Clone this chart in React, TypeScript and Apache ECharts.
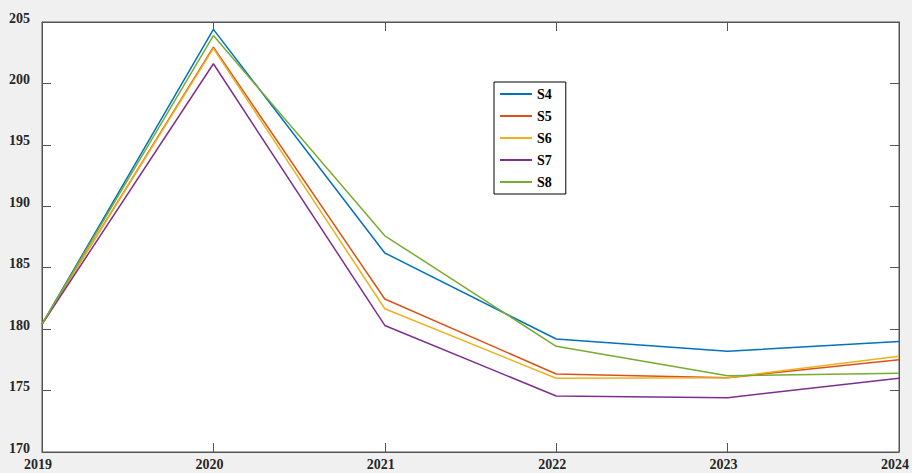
import React, { useEffect, useRef } from "react";
import * as echarts from "echarts";

const categories = ["2019", "2020", "2021", "2022", "2023", "2024"];
const seriesNames = ["S4", "S5", "S6", "S7", "S8"];
const s4 = [180.4, 204.4, 186.2, 179.2, 178.2, 179.0];
const s5 = [180.4, 202.95, 182.45, 176.35, 176.05, 177.5];
const s6 = [180.4, 202.85, 181.66, 176.0, 176.05, 177.8];
const s7 = [180.4, 201.6, 180.3, 174.56, 174.42, 176.0];
const s8 = [180.4, 203.9, 187.6, 178.6, 176.2, 176.4];
const seriesData = [s4, s5, s6, s7, s8];
const colors = ["#0072BD", "#D95319", "#EDB120", "#7E2F8E", "#77AC30"];
const yMin = 170;
const yMax = 205;
const yStep = 5;

const font = "Liberation Serif";
const axisColor = "#555555";
const labelColor = "#262626";

export default function App() {
  const ref = useRef<HTMLDivElement>(null);
  useEffect(() => {
    if (!ref.current) return;
    const chart = echarts.init(ref.current, null, { renderer: "svg" });
    const tickStyle = { show: true, inside: true, length: 9, lineStyle: { color: axisColor, width: 1 } };
    const labelBase = {
      fontFamily: font,
      fontWeight: "bold" as const,
      fontSize: 14,
      color: labelColor,
    };
    chart.setOption({
      animation: false,
      backgroundColor: "#f0f0f0",
      color: colors,
      textStyle: { fontFamily: font },
      grid: {
        left: 42,
        right: 11,
        top: 22,
        bottom: 21,
        show: true,
        backgroundColor: "#ffffff",
        borderColor: axisColor,
        borderWidth: 1,
      },
      legend: {
        orient: "vertical",
        left: 494,
        top: 82,
        backgroundColor: "#ffffff",
        borderColor: "#000000",
        borderWidth: 1,
        borderRadius: 0,
        padding: [1, 14, 1, 6],
        itemGap: 0,
        itemWidth: 32,
        itemHeight: 2,
        icon: "rect",
        data: seriesNames,
        textStyle: {
          fontFamily: font,
          fontWeight: "bold",
          fontSize: 14,
          color: "#000000",
          lineHeight: 16,
          padding: [0, 0, 6, 0],
        },
      },
      xAxis: [
        {
          type: "category",
          data: categories,
          boundaryGap: false,
          position: "bottom",
          axisLine: { show: true, lineStyle: { color: axisColor } },
          axisTick: { ...tickStyle, alignWithLabel: true },
          splitLine: { show: false },
          axisLabel: {
            ...labelBase,
            margin: 5,
            interval: 0,
            formatter: (v: string) => "{a|" + v + "}",
            rich: { a: { ...labelBase, padding: [0, 8, 0, 0] } },
          },
        },
        {
          type: "category",
          data: categories,
          boundaryGap: false,
          position: "top",
          axisLine: { show: true, lineStyle: { color: axisColor } },
          axisTick: { ...tickStyle },
          axisLabel: { show: false },
          splitLine: { show: false },
        },
      ],
      yAxis: [
        {
          type: "value",
          min: yMin,
          max: yMax,
          interval: yStep,
          position: "left",
          axisLine: { show: true, lineStyle: { color: axisColor } },
          axisTick: tickStyle,
          splitLine: { show: false },
          axisLabel: {
            ...labelBase,
            margin: 12,
            formatter: (v: number) => "{a|" + v + "}",
            rich: { a: { ...labelBase, padding: [0, 0, 8, 0] } },
          },
        },
        {
          type: "value",
          min: yMin,
          max: yMax,
          interval: yStep,
          position: "right",
          axisLine: { show: true, lineStyle: { color: axisColor } },
          axisTick: tickStyle,
          splitLine: { show: false },
          axisLabel: { show: false },
        },
      ],
      series: seriesNames.map((name, i) => ({
        name,
        type: "line",
        data: seriesData[i],
        symbol: "none",
        xAxisIndex: 0,
        yAxisIndex: 0,
        lineStyle: { width: 1.5, color: colors[i] },
        itemStyle: { color: colors[i] },
      })),
    });
    return () => chart.dispose();
  }, []);
  return <div ref={ref} style={{ width: 912, height: 473, position: "absolute", left: 0, top: 0 }} />;
}
